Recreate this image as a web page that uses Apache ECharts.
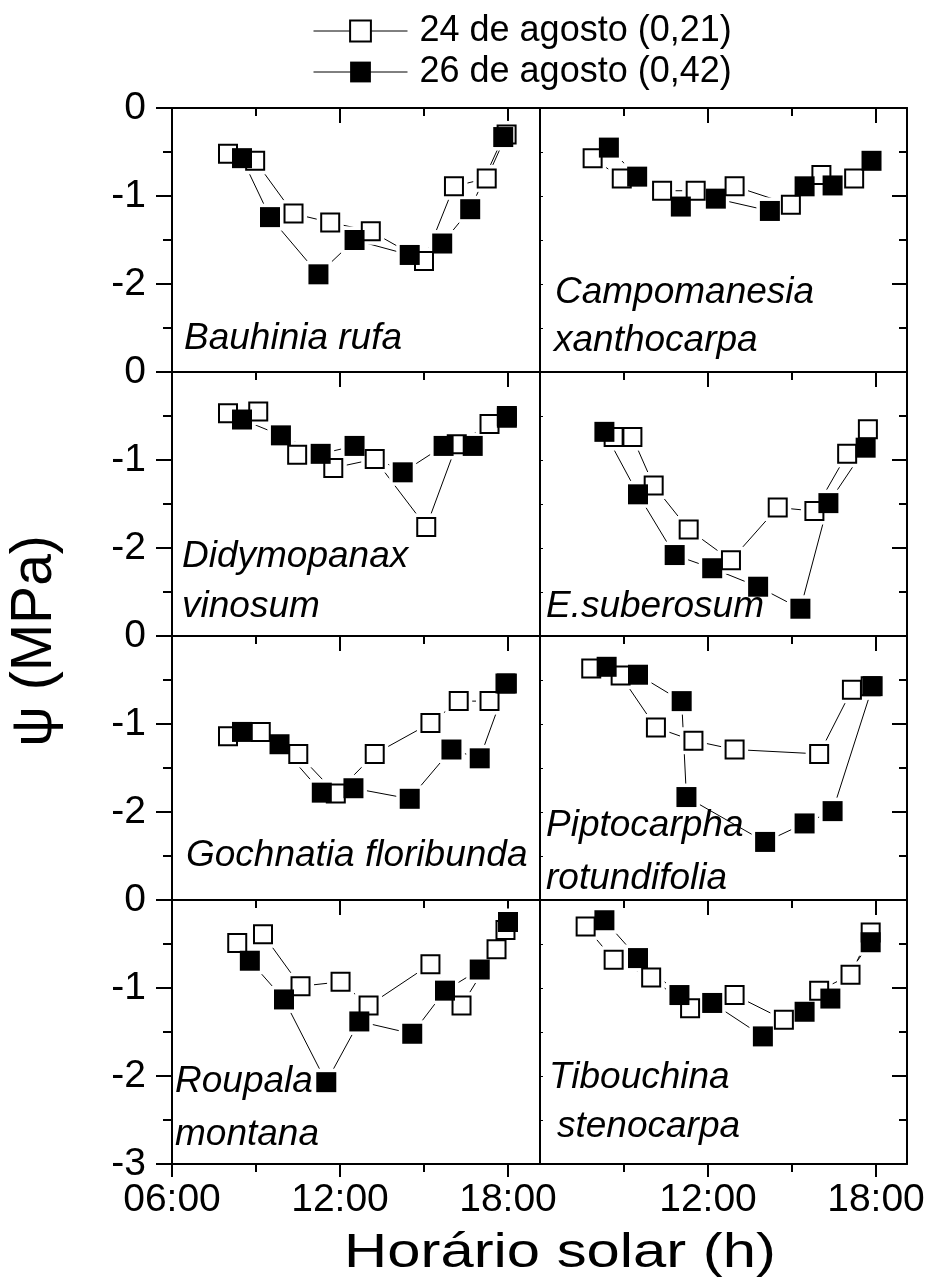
<!DOCTYPE html>
<html><head><meta charset="utf-8">
<script src="https://cdn.jsdelivr.net/npm/echarts@6/dist/echarts.min.js"></script>
<style>html,body{margin:0;padding:0;background:#fff}#c{width:934px;height:1288px}</style>
</head><body><div id="c"></div>
<script>
// ---- data: [solar hour, water potential (MPa)] ----
const seriesNames = ['24 de agosto (0,21)', '26 de agosto (0,42)'];
const speciesLabels = [['Bauhinia rufa'], ['Campomanesia', 'xanthocarpa'], ['Didymopanax', 'vinosum'], ['E.suberosum'],
  ['Gochnatia floribunda'], ['Piptocarpha', 'rotundifolia'], ['Roupala', 'montana'], ['Tibouchina', 'stenocarpa']];
const xMajorTicks = [6, 12, 18];
const xMinorTicks = [9, 15];
const xTickLabels = ['06:00', '12:00', '18:00'];
const yTickValues = [0, -1, -2, -3];

const bauhinia24 = [[8.0,-0.52],[8.97,-0.60],[10.34,-1.20],[11.65,-1.30],[13.1,-1.40],[15.0,-1.74],[16.07,-0.89],[17.24,-0.80],[17.95,-0.30]];
const bauhinia26 = [[8.5,-0.57],[9.5,-1.24],[11.23,-1.89],[12.52,-1.50],[14.49,-1.67],[15.65,-1.54],[16.65,-1.15],[17.83,-0.33]];
const campomanesia24 = [[7.88,-0.57],[8.92,-0.80],[10.36,-0.94],[11.56,-0.94],[12.95,-0.89],[14.96,-1.10],[16.05,-0.76],[17.22,-0.80]];
const campomanesia26 = [[8.46,-0.45],[9.47,-0.78],[11.03,-1.12],[12.28,-1.03],[14.21,-1.17],[15.45,-0.89],[16.45,-0.88],[17.84,-0.60]];
const didymopanax24 = [[8.0,-0.47],[9.08,-0.45],[10.47,-0.94],[11.76,-1.09],[13.24,-0.99],[15.08,-1.76],[16.17,-0.82],[17.34,-0.59],[17.96,-0.52]];
const didymopanax26 = [[8.5,-0.54],[9.89,-0.72],[11.31,-0.93],[12.52,-0.84],[14.24,-1.14],[15.70,-0.84],[16.74,-0.84],[17.96,-0.50]];
const suberosum24 = [[8.63,-0.74],[9.30,-0.74],[10.06,-1.29],[11.31,-1.79],[12.82,-2.14],[14.49,-1.54],[15.8,-1.58],[16.97,-0.93],[17.71,-0.65]];
const suberosum26 = [[8.30,-0.68],[9.50,-1.39],[10.81,-2.08],[12.15,-2.23],[13.79,-2.44],[15.3,-2.69],[16.30,-1.49],[17.63,-0.86]];
const gochnatia24 = [[8.0,-1.14],[9.17,-1.09],[10.51,-1.34],[11.85,-1.79],[13.24,-1.34],[15.23,-0.99],[16.24,-0.74],[17.34,-0.74],[17.91,-0.54]];
const gochnatia26 = [[8.5,-1.09],[9.84,-1.23],[11.35,-1.78],[12.48,-1.73],[14.49,-1.85],[15.98,-1.29],[16.99,-1.39],[17.96,-0.54]];
const piptocarpha24 = [[7.83,-0.37],[8.88,-0.45],[10.14,-1.04],[11.48,-1.19],[12.95,-1.29],[15.97,-1.34],[17.14,-0.61],[17.81,-0.57]];
const piptocarpha26 = [[8.38,-0.35],[9.50,-0.44],[11.06,-0.74],[11.23,-1.83],[14.04,-2.34],[15.45,-2.13],[16.45,-1.99],[17.88,-0.57]];
const roupala24 = [[8.33,-0.49],[9.25,-0.39],[10.59,-0.98],[12.02,-0.93],[13.02,-1.20],[15.23,-0.73],[16.34,-1.20],[17.59,-0.56],[17.91,-0.34]];
const roupala26 = [[8.78,-0.69],[10.0,-1.13],[11.51,-2.07],[12.69,-1.38],[14.58,-1.52],[15.75,-1.03],[16.99,-0.79],[18.0,-0.25]];
const tibouchina24 = [[7.63,-0.30],[8.63,-0.68],[9.97,-0.88],[11.36,-1.23],[12.95,-1.08],[14.71,-1.36],[15.97,-1.03],[17.09,-0.85],[17.81,-0.37]];
const tibouchina26 = [[8.30,-0.23],[9.5,-0.66],[10.98,-1.08],[12.15,-1.17],[13.96,-1.55],[15.45,-1.27],[16.37,-1.12],[17.81,-0.48]];

const panels = [
  [bauhinia24, bauhinia26], [campomanesia24, campomanesia26],
  [didymopanax24, didymopanax26], [suberosum24, suberosum26],
  [gochnatia24, gochnatia26], [piptocarpha24, piptocarpha26],
  [roupala24, roupala26], [tibouchina24, tibouchina26]
];

// ---- layout / styles ----
const FONT = '"Liberation Sans", Arial, Helvetica, sans-serif';
const K = '#000';
const labelPos = [
  [[184, 338.5]], [[555, 292.5], [554, 340.5]],
  [[182, 556.5], [182, 606.5]], [[546, 606.5]],
  [[186, 855.5]], [[546, 825.5], [546, 878.5]],
  [[175, 1081.5], [175, 1134.5]], [[549, 1077.5], [557, 1126.5]]
];
function hourLabel(v) { const i = xMajorTicks.indexOf(v); return i >= 0 ? xTickLabels[i] : ''; }

const grid = [], xAxis = [], yAxis = [], series = [], graphic = [];
const frame = {color: K, width: 2};

panels.forEach((pair, i) => {
  const r = Math.floor(i / 2), c = i % 2;
  const left = c ? 540 : 172, width = c ? 367 : 368, top = 108 + 264 * r;
  grid.push({left: left, top: top, width: width, height: 264});
  const xmax = 6 + width / 28;
  const bottomRow = r === 3;
  const majors = c ? xMajorTicks.slice(1) : xMajorTicks.slice();
  const base = {gridIndex: i, type: 'value', min: 6, max: xmax, interval: 3, splitLine: {show: false}};

  const xMain = xAxis.length;
  xAxis.push(Object.assign({}, base, {
    position: 'bottom',
    axisLine: {show: true, onZero: false, lineStyle: frame},
    axisTick: {show: bottomRow, customValues: majors, length: 13, lineStyle: frame},
    axisLabel: {show: bottomRow, customValues: majors, formatter: hourLabel, fontSize: 39, fontFamily: FONT, color: K, margin: 17}
  }));
  if (bottomRow) {
    xAxis.push(Object.assign({}, base, {
      position: 'bottom',
      axisLine: {show: false, onZero: false},
      axisTick: {show: true, customValues: xMinorTicks, length: 8, lineStyle: frame},
      axisLabel: {show: false}
    }));
  }
  xAxis.push(Object.assign({}, base, {
    position: 'top',
    axisLine: {show: true, onZero: false, lineStyle: frame},
    axisTick: {show: true, inside: true, customValues: [12, 18], length: 15, lineStyle: frame},
    axisLabel: {show: false}
  }));
  xAxis.push(Object.assign({}, base, {
    position: 'top',
    axisLine: {show: false, onZero: false},
    axisTick: {show: true, inside: true, customValues: xMinorTicks, length: 8, lineStyle: frame},
    axisLabel: {show: false}
  }));

  const yMain = yAxis.length;
  yAxis.push({
    gridIndex: i, type: 'value', position: 'left', min: -3, max: 0, interval: 1,
    splitLine: {show: false},
    axisLine: {show: true, onZero: false, lineStyle: frame},
    axisTick: c === 0 ? {show: true, length: 16, lineStyle: frame} : {show: true, inside: true, length: 3, lineStyle: {color: K, width: 1}},
    minorTick: c === 0 ? {show: true, splitNumber: 2, length: 9, lineStyle: frame} : {show: true, splitNumber: 2, length: 3, lineStyle: {color: K, width: 1}},
    axisLabel: c === 0 ? {show: true, customValues: yTickValues, fontSize: 39, fontFamily: FONT, color: K, margin: 26,
      formatter: v => (v === -3 && r < 3) ? '' : String(v)} : {show: false}
  });
  if (c === 1) {
    yAxis.push({
      gridIndex: i, type: 'value', position: 'right', min: -3, max: 0, interval: 1,
      splitLine: {show: false},
      axisLine: {show: true, onZero: false, lineStyle: frame},
      axisTick: {show: true, inside: true, length: 15, lineStyle: frame},
      minorTick: {show: true, splitNumber: 2, length: 8, lineStyle: frame},
      axisLabel: {show: false}
    });
  }

  pair.forEach((arr, k) => {
    const openStyle = {color: '#fff', borderColor: K, borderWidth: 2, opacity: 1};
    const fillStyle = {color: K, borderColor: K, borderWidth: 0, opacity: 1};
    series.push({
      type: 'line', name: seriesNames[k], xAxisIndex: xMain, yAxisIndex: yMain, data: arr,
      symbol: 'rect', showSymbol: false, lineStyle: {color: K, width: 1},
      itemStyle: k === 0 ? openStyle : fillStyle, z: 1, silent: true
    });
    series.push({
      type: 'scatter', xAxisIndex: xMain, yAxisIndex: yMain, data: arr,
      symbol: 'rect', symbolSize: 27, itemStyle: {color: '#fff', opacity: 1}, z: 2, silent: true
    });
    series.push({
      type: 'scatter', xAxisIndex: xMain, yAxisIndex: yMain, data: arr,
      symbol: 'rect', symbolSize: k === 0 ? 18 : 20, itemStyle: k === 0 ? openStyle : fillStyle,
      z: k === 0 ? 3 : 4, silent: true
    });
  });

  speciesLabels[i].forEach((txt, j) => {
    graphic.push({
      type: 'text', x: labelPos[i][j][0], y: labelPos[i][j][1], silent: true, z: 10,
      style: {text: txt, fontSize: 37, fontStyle: 'italic', fontFamily: FONT, fill: K, align: 'left', verticalAlign: 'middle'}
    });
  });
});

graphic.push({
  type: 'text', x: 560, y: 1253, scaleX: 1.22, silent: true,
  style: {text: 'Horário solar (h)', fontSize: 49, fontFamily: FONT, fill: K, align: 'center', verticalAlign: 'middle'}
});
graphic.push({
  type: 'text', x: 35, y: 641, rotation: Math.PI / 2, silent: true,
  style: {text: 'ψ (MPa)', fontSize: 57, fontFamily: FONT, fill: K, align: 'center', verticalAlign: 'middle'}
});

const chart = echarts.init(document.getElementById('c'), null, {renderer: 'canvas'});
chart.setOption({
  animation: false,
  backgroundColor: '#fff',
  legend: {
    data: seriesNames, orient: 'vertical', left: 313, top: 13, padding: 0, itemGap: 5,
    itemWidth: 94, itemHeight: 26, selectedMode: false,
    lineStyle: {width: 1, color: K},
    textStyle: {fontSize: 36, fontFamily: FONT, color: K, lineHeight: 36, padding: [0, 0, 0, 7]}
  },
  grid: grid, xAxis: xAxis, yAxis: yAxis, series: series, graphic: graphic
});
</script></body></html>
